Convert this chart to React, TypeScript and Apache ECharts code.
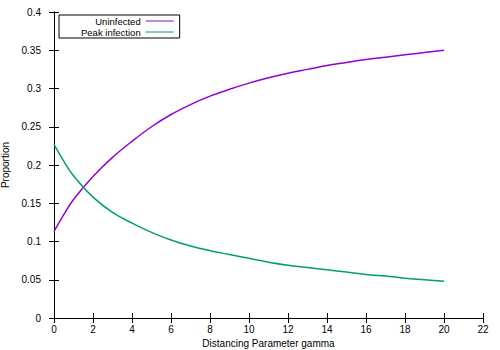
import React, { useEffect, useRef } from "react";
import * as echarts from "echarts";

const gammaValues = [0, 0.5, 1, 2, 3, 4, 5, 6, 7, 8, 9, 10, 11, 12, 13, 14, 15, 16, 17, 18, 19, 20];
const uninfected = [0.113, 0.135, 0.155, 0.185, 0.210, 0.231, 0.250, 0.266, 0.279, 0.290, 0.299, 0.307, 0.314, 0.320, 0.325, 0.330, 0.334, 0.338, 0.341, 0.344, 0.347, 0.350];
const peakInfection = [0.227, 0.205, 0.186, 0.158, 0.138, 0.124, 0.112, 0.102, 0.094, 0.088, 0.083, 0.078, 0.073, 0.069, 0.066, 0.063, 0.060, 0.057, 0.055, 0.052, 0.050, 0.048];
const seriesNames = ["Uninfected", "Peak infection"];
const xTitle = "Distancing Parameter gamma";
const yTitle = "Proportion";

const FONT = "Liberation Sans";

export default function App() {
  const ref = useRef<HTMLDivElement>(null);
  useEffect(() => {
    if (!ref.current) return;
    const chart = echarts.init(ref.current, undefined, { renderer: "svg" });
    const axisCommon = {
      axisLine: { show: true, lineStyle: { color: "#000", width: 1 } },
      axisTick: { show: true, inside: true, length: 5, lineStyle: { color: "#000" } },
      splitLine: { show: false },
    };
    chart.setOption({
      animation: false,
      backgroundColor: "#fff",
      grid: { left: 54, right: 17, top: 12, bottom: 32, containLabel: false, outerBoundsMode: "none" },
      legend: {
        left: 59,
        top: 15,
        orient: "vertical",
        align: "right",
        itemWidth: 28,
        itemHeight: 8,
        itemGap: 1,
        padding: [1, 6, 1, 22],
        borderColor: "#000",
        borderWidth: 1,
        borderRadius: 0,
        icon: "path://M0,4 L28,4 L28,5 L0,5 Z",
        textStyle: { fontFamily: FONT, fontSize: 9.5, color: "#000" },
        data: seriesNames,
      },
      xAxis: [
        {
          type: "value",
          min: 0,
          max: 22,
          interval: 2,
          name: xTitle,
          nameLocation: "middle",
          nameGap: 20,
          nameTextStyle: { fontFamily: FONT, fontSize: 10, color: "#000" },
          axisLabel: { fontFamily: FONT, fontSize: 10, color: "#000", margin: 6 },
          ...axisCommon,
        },
        {
          type: "value",
          position: "top",
          min: 0,
          max: 22,
          interval: 2,
          axisLabel: { show: false },
          ...axisCommon,
        },
      ],
      yAxis: [
        {
          type: "value",
          min: 0,
          max: 0.4,
          interval: 0.05,
          name: yTitle,
          nameLocation: "middle",
          nameGap: 39,
          nameTextStyle: { fontFamily: FONT, fontSize: 10, color: "#000" },
          axisLabel: { fontFamily: FONT, fontSize: 10, color: "#000", margin: 13 },
          ...axisCommon,
        },
        {
          type: "value",
          position: "right",
          min: 0,
          max: 0.4,
          interval: 0.05,
          axisLabel: { show: false },
          ...axisCommon,
        },
      ],
      series: [
        {
          name: seriesNames[0],
          type: "line",
          smooth: 0.4,
          showSymbol: false,
          symbol: "none",
          color: "#9400d3",
          lineStyle: { width: 1.5, color: "#9400d3" },
          data: gammaValues.map((g, i) => [g, uninfected[i]]),
        },
        {
          name: seriesNames[1],
          type: "line",
          smooth: 0.4,
          showSymbol: false,
          symbol: "none",
          color: "#009e73",
          lineStyle: { width: 1.5, color: "#009e73" },
          data: gammaValues.map((g, i) => [g, peakInfection[i]]),
        },
      ],
    });
    return () => chart.dispose();
  }, []);
  return <div ref={ref} style={{ width: 500, height: 350, position: "absolute", left: 0, top: 0 }} />;
}
